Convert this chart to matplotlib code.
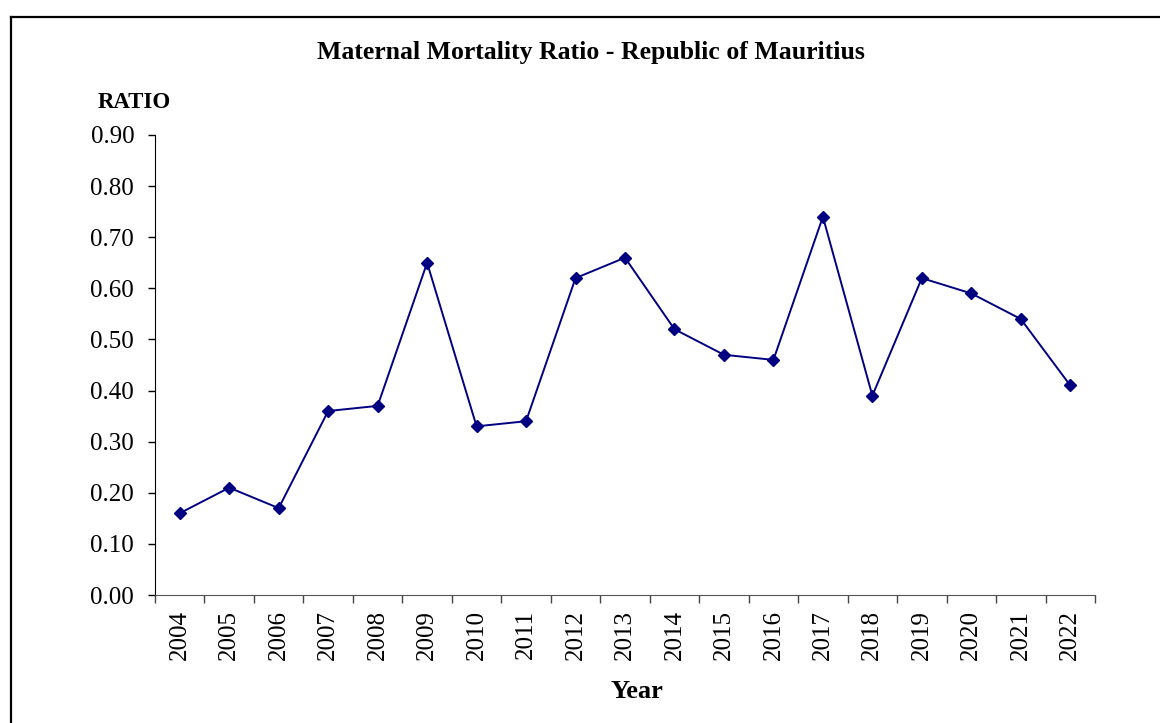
import matplotlib
matplotlib.use("Agg")
import matplotlib.pyplot as plt
from matplotlib.lines import Line2D
import numpy as np

years = ["2004", "2005", "2006", "2007", "2008", "2009", "2010", "2011", "2012", "2013",
         "2014", "2015", "2016", "2017", "2018", "2019", "2020", "2021", "2022"]
ratio = [0.16, 0.21, 0.17, 0.36, 0.37, 0.65, 0.33, 0.34, 0.62, 0.66,
         0.52, 0.47, 0.46, 0.74, 0.39, 0.62, 0.59, 0.54, 0.41]
y_ticks = [0.0, 0.1, 0.2, 0.3, 0.4, 0.5, 0.6, 0.7, 0.8, 0.9]

plt.rcParams['font.family'] = ['Liberation Serif', 'DejaVu Serif']

W, H = 1160, 723
fig = plt.figure(figsize=(W / 100, H / 100), dpi=100)
ax = fig.add_axes([155 / W, 1 - 595 / H, (1095 - 155) / W, (595 - 135) / H])

x = np.arange(len(years))
ax.plot(x, ratio, color='#000080', linewidth=1.4, marker='D', markersize=6,
        markerfacecolor='#000080', markeredgecolor='#000080')

ax.set_xlim(-0.5, len(years) - 0.5)
ax.set_ylim(0, 0.9)
ax.set_yticks(y_ticks)
ax.set_yticklabels([f"{v:.2f}" for v in y_ticks], fontsize=18)
ax.tick_params(axis='y', direction='out', length=5, width=1, pad=10)

ax.set_xticks(np.arange(-0.5, len(years), 1.0))
ax.set_xticklabels([])
ax.tick_params(axis='x', which='major', direction='out', length=6, width=1, color='#444444')
ax.set_xticks(x, minor=True)
ax.set_xticklabels(years, minor=True, rotation=90, fontsize=18)
ax.tick_params(axis='x', which='minor', length=0, pad=11)

for s in ['top', 'right']:
    ax.spines[s].set_visible(False)
ax.spines['left'].set_color('black')
ax.spines['bottom'].set_color('#555555')

fig.text(591 / W, 1 - 53 / H, "Maternal Mortality Ratio - Republic of Mauritius",
         ha='center', va='center', fontsize=18.5, fontweight='bold')
fig.text(134 / W, 1 - 102 / H, "RATIO", ha='center', va='center', fontsize=16.5,
         fontweight='bold')
fig.text(637 / W, 1 - 692 / H, "Year", ha='center', va='center', fontsize=19,
         fontweight='bold')

fig.add_artist(Line2D([10.5 / W, 10.5 / W], [0, 1 - 16.5 / H], transform=fig.transFigure,
                      color='black', linewidth=1.6))
fig.add_artist(Line2D([10.5 / W, 1.0], [1 - 16.5 / H, 1 - 16.5 / H], transform=fig.transFigure,
                      color='black', linewidth=1.6))

fig.savefig("out.png", dpi=100)
